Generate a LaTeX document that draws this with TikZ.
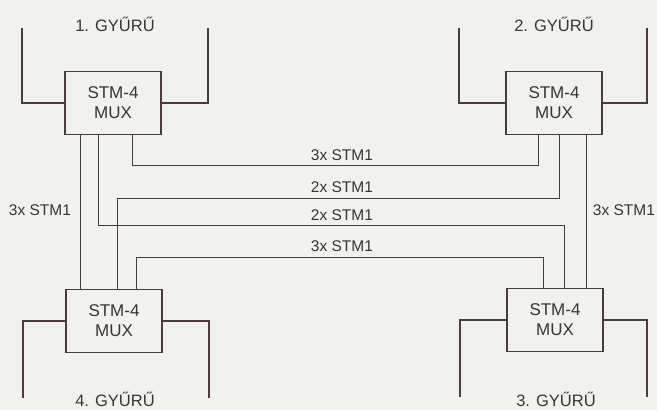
\documentclass[tikz,border=0pt]{standalone}
\usepackage{fontspec}
\setmainfont{Liberation Sans}
\definecolor{paper}{HTML}{F1F1EF}
\definecolor{ink}{HTML}{4E3B36}
\definecolor{txt}{HTML}{3A3434}
\tikzset{
  mux/.style={draw=ink, line width=1.2pt, fill=paper, minimum width=96pt, minimum height=63pt,
    inner sep=0pt, align=center, text=txt, font=\fontsize{17}{20}\selectfont},
  ring/.style={draw=ink, line width=1.8pt, line cap=butt},
  link/.style={draw=ink, line width=0.7pt},
  lbl/.style={text=txt, font=\fontsize{15.5}{18}\selectfont, inner sep=0pt},
  ringlbl/.style={lbl, font=\fontsize{16.5}{18}\selectfont, anchor=base},
}
\begin{document}
\begin{tikzpicture}[x=1pt,y=-1pt]
  \fill[paper] (0,0) rectangle (657,410);
  \useasboundingbox (0,0) rectangle (657,410);

  % multiplexers
  \node[mux] (m1) at (113,103) {STM-4\\MUX};
  \node[mux] (m2) at (554,103) {STM-4\\MUX};
  \node[mux] (m3) at (555,320) {STM-4\\MUX};
  \node[mux] (m4) at (114,321) {STM-4\\MUX};

  % ring ends
  \coordinate (r1a) at (22,28);  \coordinate (r1b) at (208,28);
  \coordinate (r2a) at (459,28); \coordinate (r2b) at (647,28);
  \coordinate (r3a) at (460,397); \coordinate (r3b) at (647,397);
  \coordinate (r4a) at (23,398); \coordinate (r4b) at (209,398);

  \draw[ring] (r1a) |- (m1.west);  \draw[ring] (m1.east) -| (r1b);
  \draw[ring] (r2a) |- (m2.west);  \draw[ring] (m2.east) -| (r2b);
  \draw[ring] (r3a) |- (m3.west);  \draw[ring] (m3.east) -| (r3b);
  \draw[ring] (r4a) |- (m4.west);  \draw[ring] (m4.east) -| (r4b);

  \node[ringlbl] (g1) at (115,31) {1. GYŰRŰ};
  \node[ringlbl] (g2) at (554,31) {2. GYŰRŰ};
  \node[ringlbl] (g3) at (556,406) {3. GYŰRŰ};
  \node[ringlbl] (g4) at (115,406.5) {4. GYŰRŰ};

  % columns of the tributary links
  \coordinate (xa) at (80,0);  \coordinate (xb) at (98,0);
  \coordinate (xc) at (117,0); \coordinate (xd) at (132,0);
  \coordinate (xe) at (136,0);
  \coordinate (xf) at (538,0); \coordinate (xg) at (543,0);
  \coordinate (xh) at (559,0); \coordinate (xi) at (564,0);
  \coordinate (xj) at (586,0);
  % levels of the cross links
  \coordinate (h1) at (0,165); \coordinate (h2) at (0,198);
  \coordinate (h3) at (0,225); \coordinate (h4) at (0,257);

  % 1 -- 4 and 2 -- 3
  \draw[link] (m1.south -| xa) -- (m4.north -| xa);
  \draw[link] (m2.south -| xj) -- (m3.north -| xj);
  % 1 -- 2
  \draw[link] (m1.south -| xd) -- (xd |- h1) -- (xf |- h1) -- (m2.south -| xf);
  % 4 -- 2
  \draw[link] (m4.north -| xc) -- (xc |- h2) -- (xh |- h2) -- (m2.south -| xh);
  % 1 -- 3
  \draw[link] (m1.south -| xb) -- (xb |- h3) -- (xi |- h3) -- (m3.north -| xi);
  % 4 -- 3
  \draw[link] (m4.north -| xe) -- (xe |- h4) -- (xg |- h4) -- (m3.north -| xg);

  % capacities
  \node[lbl, anchor=base] (c1) at (342,160) {3x STM1};
  \node[lbl, anchor=base] (c2) at (342,192) {2x STM1};
  \node[lbl, anchor=base] (c3) at (342,220) {2x STM1};
  \node[lbl, anchor=base] (c4) at (342,251) {3x STM1};
  \node[lbl] (c5) at (40,210) {3x STM1};
  \node[lbl] (c6) at (624,210) {3x STM1};
\end{tikzpicture}
\end{document}
